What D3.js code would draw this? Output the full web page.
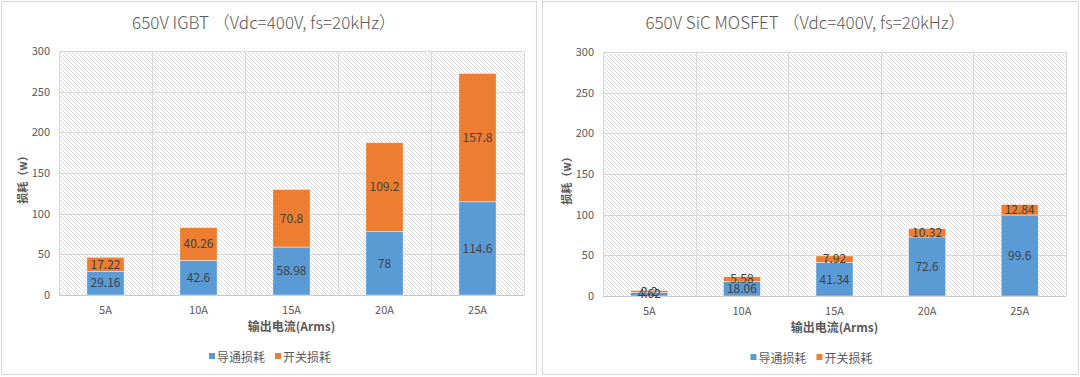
<!DOCTYPE html>
<html><head><meta charset="utf-8">
<script src="https://cdn.jsdelivr.net/npm/d3@7"></script>
<style>
html,body{margin:0;padding:0;background:#fff;}
svg{display:block;font-family:"Noto Sans CJK SC","Noto Sans",sans-serif;}
</style></head>
<body>
<svg id="chart" width="1080" height="377"></svg>
<script>
const categories = ["5A","10A","15A","20A","25A"];
const seriesNames = ["导通损耗","开关损耗"];
const igbtConduction = [29.16, 42.6, 58.98, 78, 114.6];
const igbtSwitching  = [17.22, 40.26, 70.8, 109.2, 157.8];
const sicConduction  = [4.62, 18.06, 41.34, 72.6, 99.6];
const sicSwitching   = [2.2, 5.58, 7.92, 10.32, 12.84];
const yTicks = [0, 50, 100, 150, 200, 250, 300];
const titles = ["650V IGBT （Vdc=400V, fs=20kHz）", "650V SiC MOSFET （Vdc=400V, fs=20kHz）"];
const yTitle = "损耗（w）";
const xTitle = "输出电流(Arms)";
const colors = ["#5B9BD5", "#ED7D31"];

const svg = d3.select("#chart");
const defs = svg.append("defs");
const pat = defs.append("pattern").attr("id","hatch").attr("patternUnits","userSpaceOnUse")
  .attr("width",4).attr("height",4);
pat.append("rect").attr("width",4).attr("height",4).attr("fill","#fff");
pat.append("path").attr("d","M-1,-1 L5,5 M-1,3 L1,5 M3,-1 L5,1")
  .attr("stroke","#dadada").attr("stroke-width",1);

const panels = [
  {x0:1.5, x1:536.5, plotL:59, plotR:524, yTop:51, yBot:295, cond:igbtConduction, sw:igbtSwitching, title:titles[0]},
  {x0:542.5, x1:1078.5, plotL:603, plotR:1066, yTop:52, yBot:296, cond:sicConduction, sw:sicSwitching, title:titles[1]}
];

panels.forEach(p => {
  const g = svg.append("g");
  g.append("rect").attr("x",p.x0).attr("y",1.5).attr("width",p.x1-p.x0).attr("height",373)
    .attr("fill","#fff").attr("stroke","#d9d9d9").attr("stroke-width",1.2);
  const cx = (p.x0+p.x1)/2;
  g.append("text").attr("x",cx-5).attr("y",29).attr("text-anchor","middle")
    .attr("font-size",17).attr("font-weight",300).attr("fill","#595959").text(p.title);

  const x = d3.scaleBand().domain(categories).range([p.plotL,p.plotR]).paddingInner(0).paddingOuter(0);
  const y = d3.scaleLinear().domain([0,300]).range([p.yBot,p.yTop]);

  g.append("rect").attr("x",p.plotL).attr("y",p.yTop).attr("width",p.plotR-p.plotL)
    .attr("height",p.yBot-p.yTop).attr("fill","url(#hatch)");

  g.selectAll(".hg").data(yTicks).join("line")
    .attr("x1",p.plotL).attr("x2",p.plotR)
    .attr("y1",d=>Math.round(y(d))+0.5).attr("y2",d=>Math.round(y(d))+0.5)
    .attr("stroke",d=>d===0?"#c8c8c8":"#d9d9d9").attr("stroke-width",1);
  const bounds = categories.map(c=>x(c)).concat([x(categories[4])+x.bandwidth()]);
  g.selectAll(".vg").data(bounds).join("line")
    .attr("x1",d=>Math.round(d)+0.5).attr("x2",d=>Math.round(d)+0.5)
    .attr("y1",p.yTop).attr("y2",p.yBot)
    .attr("stroke","#d9d9d9").attr("stroke-width",1);

  g.selectAll(".yt").data(yTicks).join("text")
    .attr("x",p.plotL-9).attr("y",d=>y(d)).attr("dy","0.35em")
    .attr("text-anchor","end").attr("font-size",11).attr("fill","#595959").text(d=>d);
  g.selectAll(".xt").data(categories).join("text")
    .attr("x",d=>x(d)+x.bandwidth()/2).attr("y",p.yBot+19)
    .attr("text-anchor","middle").attr("font-size",11).attr("fill","#595959").text(d=>d);
  g.append("text").attr("x",(p.plotL+p.plotR)/2).attr("y",p.yBot+36)
    .attr("text-anchor","middle").attr("font-size",12).attr("font-weight","bold")
    .attr("fill","#595959").text(xTitle);
  g.append("text").attr("transform",`translate(${p.plotL-36},${(p.yTop+p.yBot)/2+4}) rotate(-90)`)
    .attr("text-anchor","middle").attr("dy","0.35em").attr("font-size",11).attr("font-weight","bold")
    .attr("fill","#595959").text(yTitle);

  const rows = categories.map((c,i)=>({cat:c, s0:p.cond[i], s1:p.sw[i]}));
  const stack = d3.stack().keys(["s0","s1"])(rows);
  const bw = x.bandwidth()*0.4;
  stack.forEach((layer,li) => {
    g.selectAll(".bar"+li).data(layer).join("rect")
      .attr("x",d=>x(d.data.cat)+(x.bandwidth()-bw)/2)
      .attr("y",d=>y(d[1])).attr("width",bw).attr("height",d=>y(d[0])-y(d[1]))
      .attr("fill",colors[li]).attr("stroke","#fff").attr("stroke-width",0.6).attr("stroke-opacity",0.7);
  });
  stack.forEach((layer,li) => {
    g.selectAll(".lbl"+li).data(layer).join("text")
      .attr("x",d=>x(d.data.cat)+x.bandwidth()/2)
      .attr("y",d=>(y(d[0])+y(d[1]))/2).attr("dy","0.36em")
      .attr("text-anchor","middle").attr("font-size",12).attr("fill","#404040")
      .text(d=>d.data[li===0?"s0":"s1"]);
  });

  const lg = g.append("g");
  const items = lg.selectAll("g").data(seriesNames).join("g");
  items.append("rect").attr("width",6).attr("height",6).attr("y",-5).attr("fill",(d,i)=>colors[i]);
  items.append("text").attr("x",8).attr("y",0).attr("dy","0.3em").attr("font-size",12)
    .attr("fill","#595959").text(d=>d);
  let off = 0;
  items.each(function(){ d3.select(this).attr("transform",`translate(${off},0)`); off += this.getBBox().width + 10; });
  const lw = off - 10;
  lg.attr("transform",`translate(${cx - lw/2 + 1},${p.yBot+63})`);
});
</script>
</body></html>
